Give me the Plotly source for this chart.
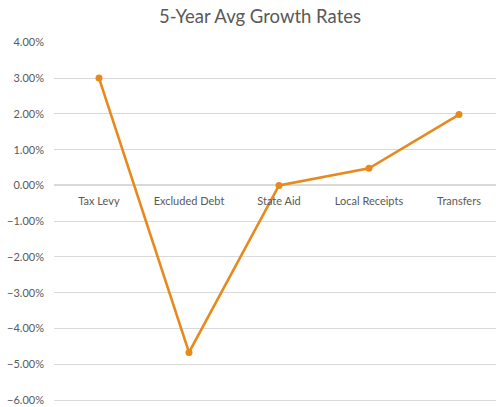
import plotly.graph_objects as go

# Five-year average growth rate by revenue source
categories = ["Tax Levy", "Excluded Debt", "State Aid", "Local Receipts", "Transfers"]
growth_rates = [0.0300, -0.0467, 0.0000, 0.0048, 0.0198]
y_ticks = [0.04, 0.03, 0.02, 0.01, 0.0, -0.01, -0.02, -0.03, -0.04, -0.05, -0.06]

LINE_COLOR = "#E8891C"
TEXT_COLOR = "#595959"
GRID_COLOR = "#D9D9D9"
FONT = "Lato"

fig = go.Figure(
    go.Scatter(
        x=list(range(len(categories))),
        y=growth_rates,
        mode="lines+markers",
        line=dict(color=LINE_COLOR, width=2.6),
        marker=dict(color=LINE_COLOR, size=7),
        hoverinfo="skip",
    )
)

fig.update_layout(
    width=496,
    height=407,
    margin=dict(l=54, r=0, t=42, b=3),
    paper_bgcolor="white",
    plot_bgcolor="white",
    showlegend=False,
    title=dict(
        text="5-Year Avg Growth Rates",
        x=260 / 496,
        xanchor="center",
        y=1 - 17 / 407,
        yanchor="middle",
        font=dict(family=FONT, size=18.5, color=TEXT_COLOR),
    ),
    font=dict(family=FONT, color=TEXT_COLOR),
)

# Category axis crosses the value axis at zero
fig.update_xaxes(
    range=[-0.5, -0.5 + 442 / 90],
    tickmode="array",
    tickvals=list(range(len(categories))),
    ticktext=categories,
    anchor="free",
    position=(0.06 + 4 / 358 * 0.1) / (0.1 + 4 / 358 * 0.1),
    showgrid=False,
    zeroline=False,
    showline=False,
    ticks="outside",
    ticklen=6,
    tickcolor="rgba(0,0,0,0)",
    tickfont=dict(family=FONT, size=11, color=TEXT_COLOR),
)

fig.update_yaxes(
    range=[-0.06 - 0.1 * 4 / 358, 0.0401],
    tickmode="array",
    tickvals=y_ticks,
    tickformat=".2%",
    showgrid=True,
    gridcolor=GRID_COLOR,
    gridwidth=1,
    zeroline=True,
    zerolinecolor=GRID_COLOR,
    zerolinewidth=1.5,
    showline=False,
    ticks="",
    ticklabelstandoff=9,
    tickfont=dict(family=FONT, size=11, color=TEXT_COLOR),
)

fig.write_html("out.html")
